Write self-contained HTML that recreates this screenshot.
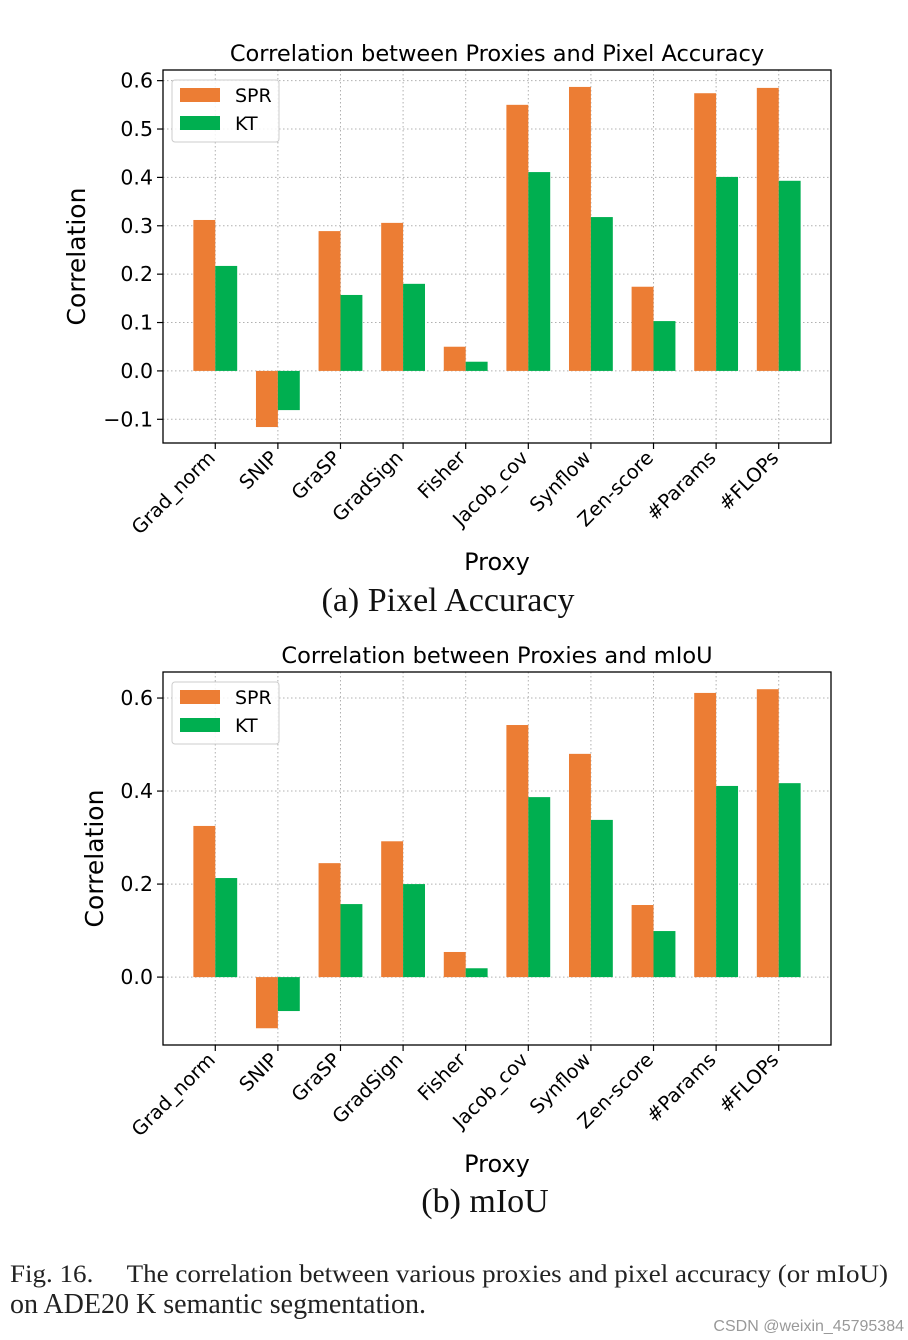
<!DOCTYPE html>
<html><head><meta charset="utf-8"><style>
body{margin:0;background:#fff;width:908px;height:1340px;overflow:hidden}
svg{display:block}
</style></head><body>
<svg id="fig" width="908" height="1340" xmlns="http://www.w3.org/2000/svg" font-family="DejaVu Sans, Liberation Sans, sans-serif">
<text x="448" y="611" font-family="Liberation Serif, serif" font-size="34" text-anchor="middle" fill="#111">(a) Pixel Accuracy</text>
<text x="485" y="1212" font-family="Liberation Serif, serif" font-size="34" text-anchor="middle" fill="#111">(b) mIoU</text>
<text x="10" y="1282" font-family="Liberation Serif, serif" font-size="25" textLength="878" lengthAdjust="spacingAndGlyphs" fill="#222">Fig. 16.&#160;&#160;&#160;&#160; The correlation between various proxies and pixel accuracy (or mIoU)</text>
<text x="10" y="1313" font-family="Liberation Serif, serif" font-size="28" fill="#222">on ADE20 K semantic segmentation.</text>
<text x="904" y="1331" font-family="Liberation Sans, sans-serif" font-size="16" text-anchor="end" fill="#999">CSDN @weixin_45795384</text>
</svg>
<script>
const categories=["Grad_norm","SNIP","GraSP","GradSign","Fisher","Jacob_cov","Synflow","Zen-score","#Params","#FLOPs"];
const sprPixel=[0.312,-0.116,0.289,0.306,0.050,0.550,0.587,0.174,0.574,0.585];
const ktPixel=[0.217,-0.081,0.157,0.180,0.019,0.411,0.318,0.103,0.401,0.393];
const sprMiou=[0.325,-0.110,0.245,0.292,0.054,0.542,0.480,0.155,0.611,0.619];
const ktMiou=[0.213,-0.073,0.157,0.200,0.019,0.387,0.338,0.099,0.411,0.417];
const ticksPixel=[-0.1,0.0,0.1,0.2,0.3,0.4,0.5,0.6];
const ticksMiou=[0.0,0.2,0.4,0.6];
const NS="http://www.w3.org/2000/svg";
const svg=document.getElementById('fig');
function el(t,a,p){const e=document.createElementNS(NS,t);for(const k in a)e.setAttribute(k,a[k]);(p||svg).appendChild(e);return e;}
function chart(cfg){
  const g=el('g',{});
  
  
  const L=163,R=831,T=cfg.top,B=cfg.top+373;
  const xmin=-0.835,xmax=9.835;
  const X=v=>L+(v-xmin)/(xmax-xmin)*(R-L);
  const Y=v=>B-(v-cfg.ymin)/(cfg.ymax-cfg.ymin)*(B-T);
  cfg.ticks.forEach(t=>{
    const l=el('line',{x1:L,x2:R,y1:Y(t),y2:Y(t),stroke:'#b0b0b0','stroke-width':1,'stroke-dasharray':'1.5,2.5'},g);
    
    
    const tk=el('line',{x1:L-6,x2:L,y1:Y(t),y2:Y(t),stroke:'#000','stroke-width':1.2},g);
    
    
    const tx=el('text',{x:L-10,y:Y(t)+7,'font-size':20.5,'text-anchor':'end',fill:'#000'},g);
    
    
    tx.textContent=(t<0?'\u2212':'')+Math.abs(t).toFixed(1);
  });
  categories.forEach((c,i)=>{
    const l=el('line',{x1:X(i),x2:X(i),y1:T,y2:B,stroke:'#b0b0b0','stroke-width':1,'stroke-dasharray':'1.5,2.5'},g);
    
    
  });
  const bw=(X(0.35)-X(0));
  const y0=Y(0);
  categories.forEach((c,i)=>{
    [[cfg.spr[i],'#EC7D34',-1],[cfg.kt[i],'#00AF50',0]].forEach(([v,col,o])=>{
      const r=el('rect',{x:X(i)+o*bw,width:bw,y:Math.min(Y(v),y0),height:Math.abs(Y(v)-y0),fill:col},g);
      
      
    });
    const tk=el('line',{x1:X(i),x2:X(i),y1:B,y2:B+6,stroke:'#000','stroke-width':1.2},g);
    
    
    const ax=X(i)+1, ay=B+16;
    const tx=el('text',{x:ax,y:ay,'font-size':19.5,'text-anchor':'end',fill:'#000',transform:`rotate(-45 ${ax} ${ay})`},g);
    
    
    tx.textContent=c;
  });
  const fr=el('rect',{x:L,y:T,width:R-L,height:B-T,fill:'none',stroke:'#000','stroke-width':1.3},g);
  
  
  const ti=el('text',{x:497,y:T-9,'font-size':22.5,'text-anchor':'middle',fill:'#000'},g);
  
  
  ti.textContent=cfg.title;
  const xl=el('text',{x:497,y:B+127,'font-size':24,'text-anchor':'middle',fill:'#000'},g);
  
  
  xl.textContent='Proxy';
  const yx=cfg.ylabX,yy=(T+B)/2;
  const yl=el('text',{x:yx,y:yy,'font-size':25,'text-anchor':'middle',fill:'#000',transform:`rotate(-90 ${yx} ${yy})`},g);
  
  
  yl.textContent='Correlation';
  const lg=el('g',{},g);
  
  
  el('rect',{x:172,y:T+10,width:107,height:62,rx:3,fill:'#fff','fill-opacity':0.85,stroke:'#ccc'},lg);
  [['SPR','#EC7D34'],['KT','#00AF50']].forEach(([n,col],k)=>{
    const e=el('g',{},lg);
    
    
    el('rect',{x:180,y:T+18+k*28,width:40,height:14,fill:col},e);
    const t=el('text',{x:235,y:T+32+k*28,'font-size':19,fill:'#000'},e);
    t.textContent=n;
  });
}
chart({name:'pixel-accuracy-chart',top:70,ymin:-0.149,ymax:0.622,ticks:ticksPixel,spr:sprPixel,kt:ktPixel,title:'Correlation between Proxies and Pixel Accuracy',ylabX:85});
chart({name:'miou-chart',top:672,ymin:-0.146,ymax:0.656,ticks:ticksMiou,spr:sprMiou,kt:ktMiou,title:'Correlation between Proxies and mIoU',ylabX:103});
</script>
</body></html>
